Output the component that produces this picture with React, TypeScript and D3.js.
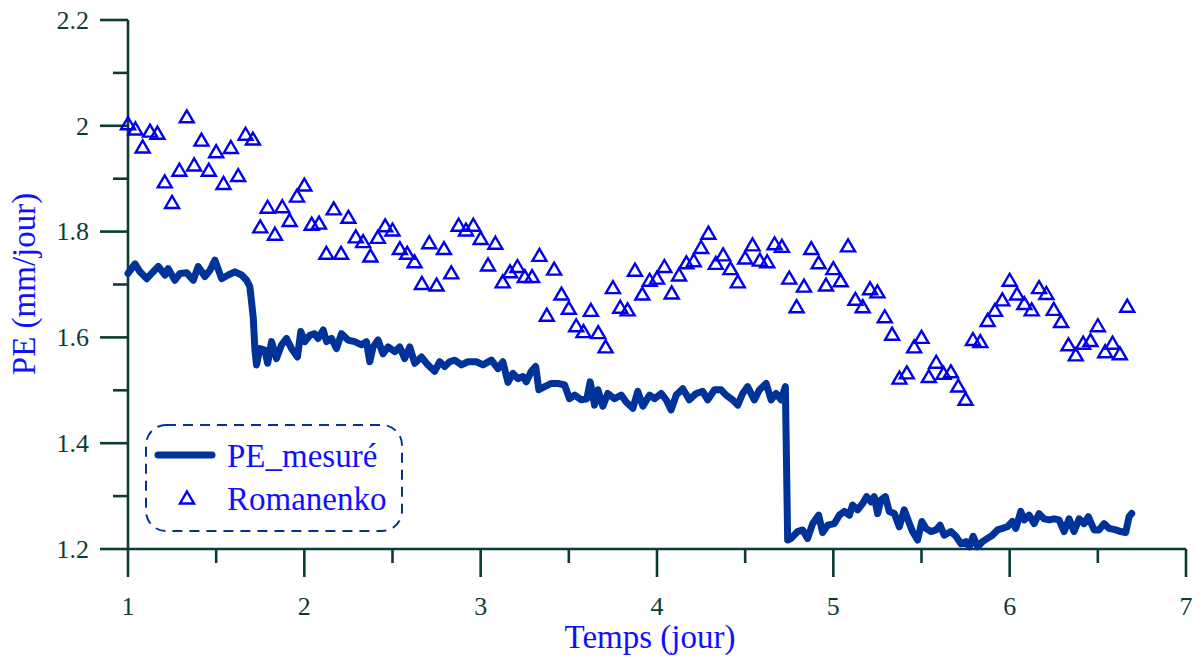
import { useMemo } from "react";
import * as d3 from "d3";

// Romanenko estimates, one per hour starting at day 1
const romValues = [
  2.004, 1.994, 1.96, 1.99, 1.986, 1.894, 1.855, 1.916, 2.017, 1.926,
  1.973, 1.916, 1.951, 1.891, 1.959, 1.906, 1.984, 1.975, 1.809, 1.846,
  1.795, 1.847, 1.821, 1.867, 1.888, 1.814, 1.816, 1.759, 1.843, 1.759,
  1.827, 1.79, 1.781, 1.754, 1.789, 1.811, 1.803, 1.768, 1.759, 1.743,
  1.702, 1.779, 1.699, 1.768, 1.722, 1.812, 1.803, 1.812, 1.787, 1.737,
  1.778, 1.705, 1.724, 1.734, 1.715, 1.715, 1.755, 1.642, 1.729, 1.682,
  1.655, 1.622, 1.611, 1.651, 1.609, 1.582, 1.694, 1.657, 1.652, 1.727,
  1.682, 1.708, 1.712, 1.734, 1.684, 1.718, 1.741, 1.745, 1.77, 1.797,
  1.74, 1.756, 1.73, 1.705, 1.75, 1.775, 1.746, 1.743, 1.777, 1.772,
  1.712, 1.658, 1.697, 1.768, 1.741, 1.699, 1.73, 1.707, 1.773, 1.672,
  1.658, 1.692, 1.686, 1.639, 1.606, 1.523, 1.533, 1.582, 1.6, 1.526,
  1.553, 1.532, 1.535, 1.508, 1.483, 1.596, 1.592, 1.632, 1.651, 1.671,
  1.708, 1.682, 1.664, 1.652, 1.694, 1.683, 1.653, 1.63, 1.586, 1.567,
  1.589, 1.594, 1.622, 1.573, 1.589, 1.569, 1.659,
];

// measured PE (day, value)
const mesDays = [
  1.0, 1.04, 1.068, 1.106, 1.134, 1.172, 1.21, 1.228, 1.266, 1.295,
  1.333, 1.37, 1.398, 1.436, 1.465, 1.493, 1.531, 1.568, 1.606, 1.644,
  1.673, 1.691, 1.71, 1.72, 1.729, 1.748, 1.776, 1.792, 1.814, 1.842,
  1.871, 1.899, 1.927, 1.961, 1.98, 2.003, 2.031, 2.059, 2.078, 2.107,
  2.126, 2.154, 2.182, 2.211, 2.248, 2.286, 2.324, 2.352, 2.371, 2.39,
  2.418, 2.446, 2.475, 2.513, 2.541, 2.569, 2.598, 2.626, 2.664, 2.701,
  2.739, 2.768, 2.796, 2.824, 2.853, 2.891, 2.928, 2.976, 3.013, 3.061,
  3.098, 3.126, 3.155, 3.183, 3.211, 3.24, 3.259, 3.287, 3.312, 3.33,
  3.363, 3.401, 3.438, 3.476, 3.504, 3.533, 3.571, 3.602, 3.621, 3.646,
  3.665, 3.693, 3.721, 3.759, 3.797, 3.825, 3.863, 3.891, 3.92, 3.958,
  3.986, 4.024, 4.052, 4.08, 4.109, 4.146, 4.184, 4.222, 4.259, 4.288,
  4.326, 4.364, 4.392, 4.429, 4.458, 4.486, 4.514, 4.552, 4.581, 4.619,
  4.647, 4.675, 4.704, 4.728, 4.741, 4.76, 4.798, 4.826, 4.854, 4.883,
  4.917, 4.939, 4.968, 5.006, 5.034, 5.062, 5.091, 5.109, 5.138, 5.166,
  5.189, 5.214, 5.232, 5.251, 5.27, 5.295, 5.317, 5.346, 5.374, 5.402,
  5.427, 5.449, 5.478, 5.502, 5.525, 5.554, 5.582, 5.605, 5.629, 5.667,
  5.695, 5.724, 5.752, 5.771, 5.793, 5.818, 5.846, 5.874, 5.902, 5.931,
  5.959, 5.987, 6.016, 6.035, 6.063, 6.082, 6.11, 6.139, 6.167, 6.195,
  6.224, 6.252, 6.28, 6.309, 6.337, 6.365, 6.394, 6.422, 6.446, 6.479,
  6.507, 6.535, 6.564, 6.602, 6.63, 6.658, 6.677, 6.692,
];
const mesValues = [
  1.721, 1.739, 1.724, 1.711, 1.721, 1.734, 1.718, 1.73, 1.708, 1.721,
  1.722, 1.708, 1.734, 1.715, 1.727, 1.746, 1.711, 1.718, 1.724, 1.718,
  1.708, 1.696, 1.639, 1.576, 1.548, 1.579, 1.576, 1.551, 1.592, 1.56,
  1.586, 1.598, 1.579, 1.563, 1.611, 1.592, 1.604, 1.607, 1.598, 1.614,
  1.592, 1.598, 1.579, 1.607, 1.595, 1.592, 1.586, 1.592, 1.554, 1.582,
  1.595, 1.569, 1.582, 1.573, 1.582, 1.56, 1.582, 1.551, 1.563, 1.548,
  1.536, 1.554, 1.545, 1.554, 1.557, 1.548, 1.554, 1.554, 1.548, 1.557,
  1.541, 1.554, 1.515, 1.532, 1.522, 1.526, 1.516, 1.536, 1.545, 1.501,
  1.507, 1.513, 1.513, 1.51, 1.484, 1.491, 1.482, 1.484, 1.516, 1.472,
  1.501, 1.47, 1.494, 1.484, 1.491, 1.478, 1.466, 1.498, 1.47, 1.491,
  1.484, 1.494, 1.482, 1.463, 1.491, 1.503, 1.482, 1.494, 1.498, 1.482,
  1.501, 1.501, 1.491, 1.482, 1.472, 1.494, 1.507, 1.482, 1.501, 1.513,
  1.482, 1.494, 1.482, 1.507, 1.217, 1.22, 1.233, 1.236, 1.22, 1.248,
  1.264, 1.231, 1.245, 1.248, 1.264, 1.271, 1.264, 1.283, 1.274, 1.286,
  1.299, 1.289, 1.299, 1.267, 1.293, 1.299, 1.271, 1.267, 1.242, 1.274,
  1.252, 1.233, 1.217, 1.252, 1.239, 1.233, 1.236, 1.245, 1.226, 1.233,
  1.224, 1.21, 1.214, 1.204, 1.224, 1.204, 1.214, 1.22, 1.226, 1.236,
  1.239, 1.242, 1.252, 1.239, 1.271, 1.255, 1.264, 1.248, 1.267, 1.257,
  1.255, 1.257, 1.255, 1.233, 1.257, 1.233, 1.257, 1.248, 1.261, 1.236,
  1.236, 1.248, 1.239, 1.236, 1.233, 1.231, 1.261, 1.267,
];

const xTicks = [1, 2, 3, 4, 5, 6, 7];
const xMinor = [1.5, 2.5, 3.5, 4.5, 5.5, 6.5];
const yTicks = [1.2, 1.4, 1.6, 1.8, 2, 2.2];
const yMinor = [1.3, 1.5, 1.7, 1.9, 2.1];

const AXIS = "#0b3b34";
const LINE = "#003399";
const TRI = "#0000ee";
const TITLE = "#1010ff";
const FONT = "'Liberation Serif', 'Times New Roman', serif";

const tri = "M0,-6.5L7,5.5L-7,5.5Z";

export default function App() {
  const x = d3.scaleLinear().domain([1, 7]).range([128, 1186]);
  const y = d3.scaleLinear().domain([1.2, 2.2]).range([549, 20]);

  const mesPath = useMemo(() => {
    const pts = mesDays.map((d, i) => [d, mesValues[i]] as [number, number]);
    return d3
      .line<[number, number]>()
      .x((d) => x(d[0]))
      .y((d) => y(d[1]))(pts);
  }, []);

  return (
    <svg
      width={1199}
      height={659}
      style={{ position: "absolute", left: 0, top: 0, background: "#fff" }}
      fontFamily={FONT}
    >
      {/* axes */}
      <g stroke={AXIS} strokeWidth={2.6} fill="none">
        <line x1={x(1)} x2={x(7)} y1={y(1.2)} y2={y(1.2)} />
        <line x1={x(1)} x2={x(1)} y1={y(1.2)} y2={y(2.2)} />
        {xTicks.map((t) => (
          <line key={"xt" + t} x1={x(t)} x2={x(t)} y1={y(1.2)} y2={y(1.2) + 28} />
        ))}
        {xMinor.map((t) => (
          <line key={"xm" + t} x1={x(t)} x2={x(t)} y1={y(1.2)} y2={y(1.2) + 14} />
        ))}
        {yTicks.map((t) => (
          <line key={"yt" + t} x1={x(1) - 28} x2={x(1)} y1={y(t)} y2={y(t)} />
        ))}
        {yMinor.map((t) => (
          <line key={"ym" + t} x1={x(1) - 15} x2={x(1)} y1={y(t)} y2={y(t)} />
        ))}
      </g>
      <g fill={AXIS} fontSize={26}>
        {xTicks.map((t) => (
          <text key={"xl" + t} x={x(t)} y={615} textAnchor="middle">
            {t}
          </text>
        ))}
        {yTicks.map((t) => (
          <text key={"yl" + t} x={89} y={y(t)} dy="0.34em" textAnchor="end">
            {d3.format("~g")(t)}
          </text>
        ))}
      </g>
      <text x={650} y={648} textAnchor="middle" fontSize={33} fill={TITLE}>
        Temps (jour)
      </text>
      <text
        transform={`translate(35,${284}) rotate(-90)`}
        textAnchor="middle"
        fontSize={33}
        fill={TITLE}
      >
        PE (mm/jour)
      </text>

      {/* Romanenko */}
      <g fill="none" stroke={TRI} strokeWidth={2.4}>
        {romValues.map((v, i) => (
          <path key={i} d={tri} transform={`translate(${x(1 + i / 24)},${y(v)})`} />
        ))}
      </g>

      {/* measured */}
      <path
        d={mesPath ?? ""}
        fill="none"
        stroke={LINE}
        strokeWidth={7}
        strokeLinejoin="round"
        strokeLinecap="round"
      />

      {/* legend */}
      <rect
        x={146}
        y={425}
        width={256}
        height={106}
        rx={20}
        fill="#fff"
        stroke={LINE}
        strokeWidth={2}
        strokeDasharray="10 7"
      />
      <line
        x1={158}
        x2={212}
        y1={455}
        y2={455}
        stroke={LINE}
        strokeWidth={7}
        strokeLinecap="round"
      />
      <path d={tri} transform="translate(187,498)" fill="none" stroke={TRI} strokeWidth={2.4} />
      <g fontSize={33} fill={TITLE}>
        <text x={227} y={467}>PE_mesuré</text>
        <text x={227} y={510}>Romanenko</text>
      </g>
    </svg>
  );
}
